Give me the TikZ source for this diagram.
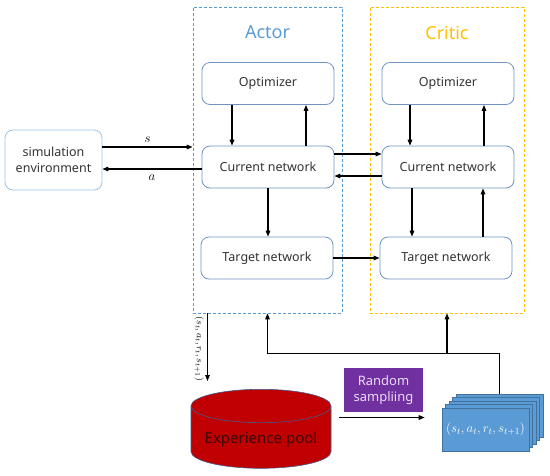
\RequirePackage{fix-cm}
\documentclass[tikz,border=0pt]{standalone}
\usepackage{fontspec}
\setmainfont{Noto Sans}
\usepackage{xcolor}
\usetikzlibrary{arrows.meta,shapes.geometric,positioning,calc}
\definecolor{cActL}{HTML}{5B9BD5}
\definecolor{cCriL}{HTML}{FFC000}
\definecolor{cBoxL}{HTML}{6F94C4}
\definecolor{cEnvL}{HTML}{9DC3E6}
\definecolor{cText}{HTML}{333333}
\definecolor{cPoolF}{HTML}{C00000}
\definecolor{cPoolL}{HTML}{41598F}
\definecolor{cPoolT}{HTML}{3A0808}
\definecolor{cSampF}{HTML}{7030A0}
\definecolor{cSampT}{HTML}{E8DDF2}
\definecolor{cCardF}{HTML}{5B9BD5}
\definecolor{cCardL}{HTML}{41719C}
\tikzset{
  nbox/.style={draw=cBoxL,rounded corners=8pt,line width=0.8pt,align=center,
      minimum width=132pt,minimum height=42pt,text=cText,
      font=\fontsize{12.5}{16}\selectfont},
  grpframe/.style={draw,dash pattern=on 3pt off 2pt,line width=0.8pt},
  grpttl/.style={font=\fontsize{18}{21}\selectfont,inner sep=0pt},
  flow/.style={-{Triangle[length=6pt,width=4.6pt]},line width=1.2pt,draw=black},
  mlab/.style={font=\fontsize{13}{15}\selectfont,inner sep=1pt},
  poolcyl/.style={cylinder,shape border rotate=90,aspect=0.28,draw=cPoolL,
      fill=cPoolF,line width=0.6pt,minimum width=140pt,minimum height=79pt,
      text=cPoolT,font=\fontsize{15}{18}\selectfont},
  sampbox/.style={fill=cSampF,text=cSampT,align=center,minimum width=79pt,
      minimum height=44pt,font=\fontsize{13}{16}\selectfont,inner sep=1pt},
  card/.style={draw=cCardL,fill=cCardF,line width=0.6pt,minimum width=87pt,
      minimum height=43pt,text=white,font=\fontsize{13}{15}\selectfont},
}
\begin{document}
\begin{tikzpicture}[x=1pt,y=-1pt]
  \useasboundingbox (0,0) rectangle (550,475);

  % groups
  \node[grpframe,draw=cActL,minimum width=149pt,minimum height=306pt] (actor) at (267.5,160) {};
  \node[grpframe,draw=cCriL,minimum width=154pt,minimum height=306pt] (critic) at (447,160) {};
  \node[grpttl,text=cActL] (actorttl) at ([yshift=-26pt]actor.north) {Actor};
  \node[grpttl,text=cCriL] (criticttl) at ([yshift=-26pt]critic.north) {Critic};

  % networks
  \node[nbox] (aopt) at (268,83.5) {Optimizer};
  \node[nbox] (acur) at (268,167) {Current network};
  \node[nbox] (atgt) at (267,258) {Target network};
  \node[nbox] (copt) at (448,83.5) {Optimizer};
  \node[nbox] (ccur) at (448,167) {Current network};
  \node[nbox] (ctgt) at (446,258) {Target network};

  \node[nbox,draw=cEnvL,minimum width=97pt,minimum height=60pt] (env) at (53.5,160)
   {simulation\\environment};

  % environment loop
  \draw[flow] ([yshift=13pt]env.east) -- node[mlab,above=3pt]{$s$}
    ([yshift=13pt]env.east -| actor.west);
  \draw[flow] ([yshift=-2pt]acur.west) -- node[mlab,below=4pt]{$a$}
    ([yshift=-2pt]acur.west -| env.east);

  % actor
  \draw[flow] ([xshift=-36pt]aopt.south) -- ([xshift=-36pt]acur.north);
  \draw[flow] ([xshift=38pt]acur.north) -- ([xshift=38pt]aopt.south);
  \draw[flow] (acur.south) -- (acur.south |- atgt.north);

  % critic
  \draw[flow] ([xshift=-38pt]copt.south) -- ([xshift=-38pt]ccur.north);
  \draw[flow] ([xshift=36pt]ccur.north) -- ([xshift=36pt]copt.south);
  \draw[flow] ([xshift=-36pt]ccur.south) -- ([xshift=-34pt]ctgt.north);
  \draw[flow] ([xshift=37pt]ctgt.north) -- ([xshift=35pt]ccur.south);

  % actor <-> critic
  \draw[flow] ([yshift=13pt]acur.east) -- ([yshift=13pt]acur.east -| ccur.west);
  \draw[flow] ([yshift=-9pt]ccur.west) -- ([yshift=-9pt]ccur.west -| acur.east);
  \draw[flow] (atgt.east) -- (atgt.east -| ctgt.west);

  % replay
  \node[poolcyl,anchor=north] (pool) at (261,389) {Experience pool};
  \node[sampbox] (samp) at (383.5,390) {Random\\sampliing};
  \foreach \k in {4,3,2,1}
    \node[card] (batch\k) at (485.5+3.5*\k,429.5-3.5*\k) {};
  \node[card] (batch) at (485.5,429.5) {$(s_t,a_t,r_t,s_{t+1})$};

  \draw[flow,shorten >=8pt] ([xshift=-60pt]actor.south) --
    node[pos=0.47,anchor=north,rotate=-90,inner sep=3pt,font=\fontsize{9.5}{11}\selectfont]
    {$(s_t,a_t,r_t,s_{t+1})$} ([xshift=-60pt]actor.south |- pool.north);
  \draw[flow] ([shift={(8pt,12pt)}]pool.east |- batch.west) -- ([shift={(-17pt,12pt)}]batch.west);
  \draw[flow] (batch4.north) |- ([yshift=-40pt]actor.south) -- (actor.south);
  \draw[flow] ([yshift=-40pt]critic.south) -- (critic.south);
\end{tikzpicture}
\end{document}
